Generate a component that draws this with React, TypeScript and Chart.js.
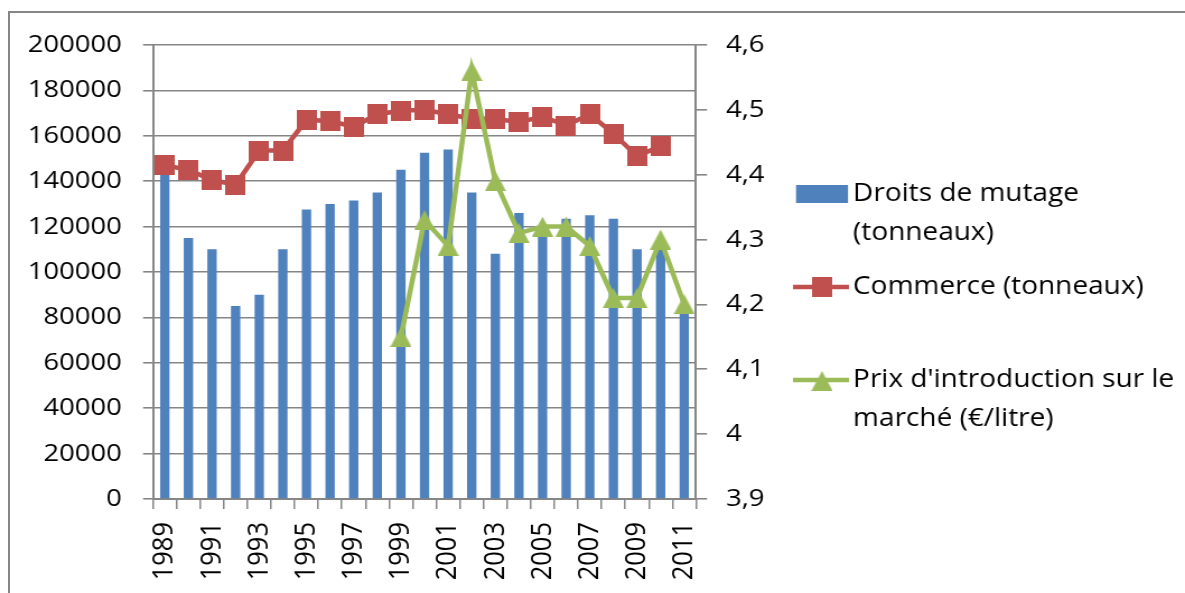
import React, { useEffect, useRef } from 'react';
import { Chart, registerables } from 'chart.js';

Chart.register(...registerables);

// ---------- data ----------
const years = ['1989', '1990', '1991', '1992', '1993', '1994', '1995', '1996', '1997', '1998', '1999', '2000', '2001', '2002', '2003', '2004', '2005', '2006', '2007', '2008', '2009', '2010', '2011'];

const droitsDeMutage = [145000, 115000, 110000, 85000, 90000, 110000, 127500, 130000, 131500, 135000, 145000, 152500, 154000, 135000, 108000, 126000, 120000, 123500, 125000, 123500, 110000, 112000, 85000];

const commerce = [147000, 145000, 140500, 138500, 153500, 153500, 167000, 166500, 164000, 169500, 171000, 171500, 169500, 167500, 167500, 166000, 168500, 164500, 169500, 161000, 151000, 155500, null];

const prixIntroduction = [null, null, null, null, null, null, null, null, null, null, 4.15, 4.33, 4.29, 4.56, 4.39, 4.31, 4.32, 4.32, 4.29, 4.21, 4.21, 4.30, 4.20];

const seriesLabels = ['Droits de mutage (tonneaux)', 'Commerce (tonneaux)', "Prix d'introduction sur le marché (€/litre)"];
const legendLines = [['Droits de mutage', '(tonneaux)'], ['Commerce (tonneaux)'], ["Prix d'introduction sur le", 'marché (€/litre)']];

const leftTicks = { min: 0, max: 200000, step: 20000 };
const rightTicks = { min: 3.9, max: 4.6, step: 0.1 };

// ---------- layout / style ----------
const S = 1.12; // horizontal stretch of the picture
const CSS_W = 1185;
const CSS_H = 593;
const W = Math.round(CSS_W / S);
const H = CSS_H;
const cx = (v: number) => v / S;

const AREA_LEFT = cx(153);
const AREA_RIGHT = cx(696);
const AREA_TOP = 45;
const AREA_BOTTOM = 499;

const GRID = '#868686';
const BLUE = '#4F81BD';
const RED = '#C0504D';
const GREEN = '#9BBB59';
const FONT = '"Open Sans", "DejaVu Sans", sans-serif';

function makeSquare(): HTMLCanvasElement {
  const c = document.createElement('canvas');
  c.width = Math.round(cx(20));
  c.height = 20;
  const g = c.getContext('2d')!;
  g.fillStyle = RED;
  g.fillRect(0, 0, c.width, c.height);
  return c;
}

function makeTriangle(): HTMLCanvasElement {
  const c = document.createElement('canvas');
  c.width = Math.round(cx(21));
  c.height = 20;
  const g = c.getContext('2d')!;
  g.fillStyle = GREEN;
  g.beginPath();
  g.moveTo(c.width / 2, 0);
  g.lineTo(c.width, c.height);
  g.lineTo(0, c.height);
  g.closePath();
  g.fill();
  return c;
}

export default function App() {
  const ref = useRef<HTMLCanvasElement | null>(null);

  useEffect(() => {
    let chart: Chart | null = null;
    let cancelled = false;

    const build = () => {
      if (cancelled || !ref.current) return;
      const square = makeSquare();
      const triangle = makeTriangle();

      const legendPlugin = {
        id: 'customLegend',
        afterDraw(c: any) {
          const ctx = c.ctx as CanvasRenderingContext2D;
          ctx.save();
          ctx.font = `25px ${FONT}`;
          ctx.fillStyle = '#000';
          ctx.textBaseline = 'middle';
          ctx.textAlign = 'left';
          const textX = cx(853);
          const symL = cx(793);
          const symR = cx(849);
          const symC = cx(822);
          // item 1 : bars
          ctx.fillStyle = BLUE;
          ctx.fillRect(cx(796), 185, cx(848) - cx(796), 18);
          ctx.fillStyle = '#000';
          ctx.fillText(legendLines[0][0], textX, 194);
          ctx.fillText(legendLines[0][1], textX, 233);
          // item 2 : red line
          ctx.strokeStyle = RED;
          ctx.lineWidth = 4.5;
          ctx.beginPath();
          ctx.moveTo(symL, 287);
          ctx.lineTo(symR, 287);
          ctx.stroke();
          ctx.drawImage(square, symC - square.width / 2, 287 - square.height / 2);
          ctx.fillText(legendLines[1][0], textX, 287);
          // item 3 : green line
          ctx.strokeStyle = GREEN;
          ctx.beginPath();
          ctx.moveTo(symL, 380);
          ctx.lineTo(symR, 380);
          ctx.stroke();
          ctx.drawImage(triangle, symC - triangle.width / 2, 381 - triangle.height / 2);
          ctx.fillText(legendLines[2][0], textX, 380);
          ctx.fillText(legendLines[2][1], textX, 419);
          ctx.restore();
        },
      };

      chart = new Chart(ref.current, {
        type: 'bar',
        data: {
          labels: years,
          datasets: [
            {
              type: 'line',
              label: seriesLabels[2],
              data: prixIntroduction,
              yAxisID: 'y1',
              borderColor: GREEN,
              backgroundColor: GREEN,
              borderWidth: 4.5,
              pointStyle: triangle,
              pointRadius: 10,
              pointHoverRadius: 10,
              tension: 0,
              order: 1,
            } as any,
            {
              type: 'line',
              label: seriesLabels[1],
              data: commerce,
              yAxisID: 'y',
              borderColor: RED,
              backgroundColor: RED,
              borderWidth: 4.5,
              pointStyle: square,
              pointRadius: 10,
              pointHoverRadius: 10,
              tension: 0,
              order: 2,
            } as any,
            {
              type: 'bar',
              label: seriesLabels[0],
              data: droitsDeMutage,
              yAxisID: 'y',
              backgroundColor: BLUE,
              borderWidth: 0,
              barPercentage: 0.395,
              categoryPercentage: 1.0,
              order: 3,
            },
          ],
        },
        options: {
          animation: false,
          responsive: false,
          devicePixelRatio: 1,
          events: [],
          layout: { padding: { top: AREA_TOP, left: 0, right: 0, bottom: 0 } },
          plugins: {
            legend: { display: false },
            title: { display: false },
            tooltip: { enabled: false },
          },
          scales: {
            x: {
              type: 'category',
              offset: true,
              grid: {
                display: true,
                offset: true,
                drawOnChartArea: false,
                drawTicks: true,
                tickLength: 10,
                color: GRID,
                lineWidth: 1.5,
              },
              border: { display: true, color: GRID, width: 2 },
              ticks: {
                autoSkip: false,
                maxRotation: 90,
                minRotation: 90,
                padding: 13,
                color: '#000',
                font: { family: FONT, size: 25.5 },
                callback: (_v: any, i: number) => (i % 2 === 0 ? years[i] : ''),
              },
              afterFit: (s: any) => {
                s.height = H - AREA_BOTTOM;
              },
            },
            y: {
              type: 'linear',
              position: 'left',
              min: leftTicks.min,
              max: leftTicks.max,
              grid: {
                color: GRID,
                lineWidth: 1.6,
                drawTicks: true,
                tickLength: cx(10),
              },
              border: { display: true, color: GRID, width: 2 },
              ticks: {
                stepSize: leftTicks.step,
                padding: 19,
                color: '#000',
                font: { family: FONT, size: 24.5 },
                callback: (v: any) => String(v),
              },
              afterFit: (s: any) => {
                s.width = AREA_LEFT;
              },
            },
            y1: {
              type: 'linear',
              position: 'right',
              min: rightTicks.min,
              max: rightTicks.max,
              grid: {
                drawOnChartArea: false,
                color: GRID,
                lineWidth: 1.6,
                drawTicks: true,
                tickLength: cx(11),
              },
              border: { display: true, color: GRID, width: 2 },
              ticks: {
                stepSize: rightTicks.step,
                padding: 17,
                color: '#000',
                font: { family: FONT, size: 24.5 },
                callback: (v: any) => String(Math.round(Number(v) * 10) / 10).replace('.', ','),
              },
              afterFit: (s: any) => {
                s.width = W - AREA_RIGHT;
              },
            },
          },
        } as any,
        plugins: [legendPlugin],
      });
    };

    const fonts: any = (document as any).fonts;
    if (fonts && fonts.load) {
      Promise.all([fonts.load('25px "Open Sans"')]).then(build, build);
    } else {
      build();
    }

    return () => {
      cancelled = true;
      if (chart) chart.destroy();
    };
  }, []);

  return (
    <div style={{ position: 'absolute', left: 0, top: 0, width: CSS_W, height: CSS_H, overflow: 'hidden', background: '#fff' }}>
      <div
        style={{
          position: 'absolute',
          left: 8,
          top: 11,
          width: 3000,
          height: 3000,
          borderLeft: `2px solid ${GRID}`,
          borderTop: `2px solid ${GRID}`,
        }}
      />
      <canvas
        ref={ref}
        width={W}
        height={H}
        style={{ position: 'absolute', left: 0, top: 0, width: CSS_W + 'px', height: CSS_H + 'px' }}
      />
    </div>
  );
}
